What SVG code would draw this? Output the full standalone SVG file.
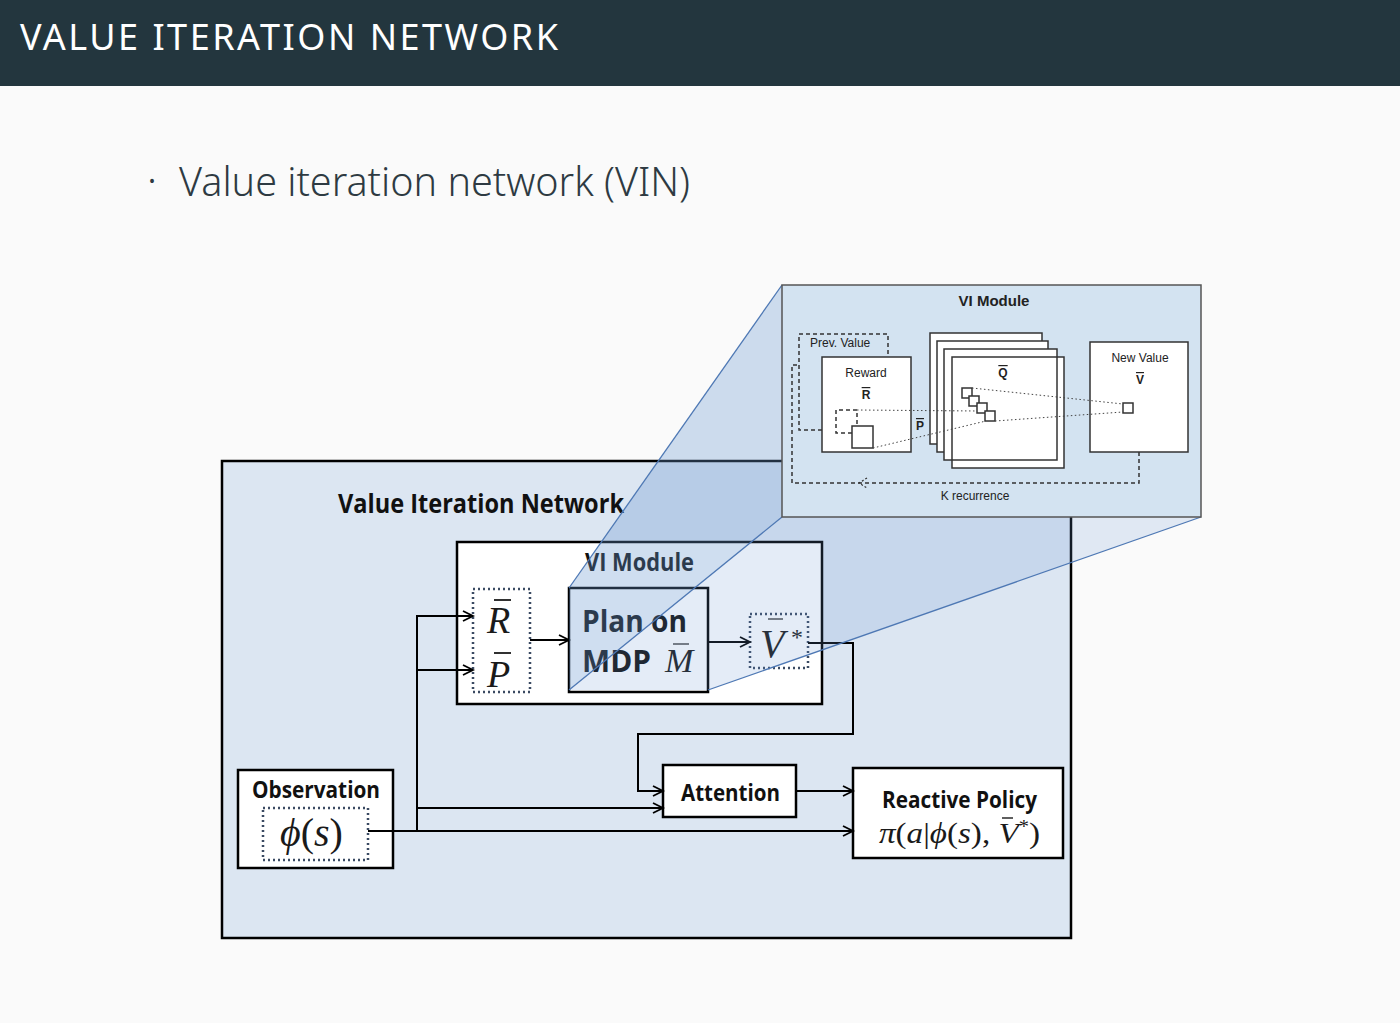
<svg xmlns="http://www.w3.org/2000/svg" width="1400" height="1023" viewBox="0 0 1400 1023">
<style>
.lbl{font-family:"Open Sans","Noto Sans","Liberation Sans",sans-serif;font-weight:700;fill:#111;}
.math{font-family:"Liberation Serif","DejaVu Serif",serif;font-style:italic;fill:#1a1a1a;}
.rm{font-style:normal;}
.sm{font-family:"Liberation Sans",Arial,sans-serif;font-size:12px;fill:#222;}
.smb{font-family:"Liberation Sans",Arial,sans-serif;font-size:12px;font-weight:700;fill:#222;}
.ttl{font-family:"Liberation Sans",Arial,sans-serif;font-size:15px;font-weight:700;fill:#222;}
.box{fill:#fff;stroke:#000;stroke-width:2.5;}
.dot{fill:none;stroke:#3a4a62;stroke-width:2.5;stroke-dasharray:2 3;}
.conn{fill:none;stroke:#000;stroke-width:2;}
.ibox{fill:#fff;stroke:#333;stroke-width:1.5;}
.idash{fill:none;stroke:#333;stroke-width:1.5;stroke-dasharray:4 3;}
.idot{fill:none;stroke:#444;stroke-width:1;stroke-dasharray:1.5 2.5;}
.proj{fill:none;stroke:#4e78b4;stroke-width:1.3;}
</style>
<defs>
<marker id="arr" markerUnits="userSpaceOnUse" markerWidth="14" markerHeight="14" refX="11" refY="6" orient="auto">
<path d="M1,1 L11,6 L1,11" fill="none" stroke="#000" stroke-width="1.8"/>
</marker>
</defs>
<rect x="0" y="0" width="1400" height="1023" fill="#fafafa"/>
<g id="header">
<rect x="0" y="0" width="1400" height="86" fill="#23363e"/>
<text x="20" y="50" font-family="'Noto Sans','Open Sans',sans-serif" font-size="36" fill="#fff" letter-spacing="2" textLength="540" lengthAdjust="spacing">VALUE ITERATION NETWORK</text>
</g>
<g id="bullet">
<text x="148" y="192" font-family="'Noto Sans',sans-serif" font-size="30" fill="#2e3a42">·</text>
<text x="179" y="196" font-family="'Noto Sans','Open Sans',sans-serif" font-weight="300" font-size="41" fill="#2e3a42" textLength="511" lengthAdjust="spacingAndGlyphs">Value iteration network (VIN)</text>
</g>

<g id="vin">
<rect x="222" y="461" width="849" height="477" fill="#dce6f2" stroke="#000" stroke-width="2.5"/>
<text class="lbl" x="338" y="513" font-size="27" textLength="286" lengthAdjust="spacingAndGlyphs">Value Iteration Network</text>
</g>
<g id="vi-module">
<rect class="box" x="457" y="542" width="365" height="162"/>
<text class="lbl" x="585" y="571" font-size="25" fill="#262e3a" textLength="109" lengthAdjust="spacingAndGlyphs">VI Module</text>
</g>
<g id="rp">
<rect class="dot" x="473" y="589" width="57" height="103"/>
<text class="math" x="487" y="633" font-size="38">R</text>
<line x1="494" y1="600" x2="511" y2="600" stroke="#1a1a1a" stroke-width="1.8"/>
<text class="math" x="487" y="687" font-size="38">P</text>
<line x1="494" y1="653" x2="511" y2="653" stroke="#1a1a1a" stroke-width="1.8"/>
</g>
<g id="plan">
<rect class="box" x="569" y="588" width="139" height="104"/>
<text class="lbl" x="582" y="632" font-size="30" fill="#262e3a" textLength="105" lengthAdjust="spacingAndGlyphs">Plan on</text>
<text class="lbl" x="582" y="672" font-size="30" fill="#262e3a" textLength="69" lengthAdjust="spacingAndGlyphs">MDP</text>
<text class="math" x="665" y="672" font-size="34" fill="#555">M</text>
<line x1="673" y1="644" x2="689" y2="644" stroke="#555" stroke-width="1.6"/>
</g>
<g id="vstar">
<rect class="dot" x="750" y="614" width="58" height="54"/>
<text class="math" x="760" y="657" font-size="40" fill="#555">V</text>
<line x1="768" y1="619" x2="783" y2="619" stroke="#555" stroke-width="1.6"/>
<text class="math rm" x="791" y="645" font-size="24" fill="#555">*</text>
</g>
<g id="observation">
<rect class="box" x="238" y="770" width="155" height="98"/>
<text class="lbl" x="252" y="798" font-size="24" textLength="128" lengthAdjust="spacingAndGlyphs">Observation</text>
<rect class="dot" x="263" y="808" width="105" height="52"/>
<text class="math" x="280" y="846" font-size="40">ϕ<tspan class="rm">(</tspan>s<tspan class="rm">)</tspan></text>
</g>
<g id="attention">
<rect class="box" x="663" y="765" width="133" height="52"/>
<text class="lbl" x="681" y="801" font-size="24" textLength="99" lengthAdjust="spacingAndGlyphs">Attention</text>
</g>
<g id="policy">
<rect class="box" x="853" y="768" width="210" height="90"/>
<text class="lbl" x="882" y="808" font-size="24" textLength="155" lengthAdjust="spacingAndGlyphs">Reactive Policy</text>
<text class="math" x="879" y="843" font-size="29" textLength="161" lengthAdjust="spacingAndGlyphs">π<tspan class="rm">(</tspan>a<tspan class="rm">|</tspan>ϕ<tspan class="rm">(</tspan>s<tspan class="rm">), </tspan>V<tspan class="rm" font-size="18" dy="-10">*</tspan><tspan class="rm" dy="10">)</tspan></text>
<line x1="1002" y1="818" x2="1013" y2="818" stroke="#1a1a1a" stroke-width="1.4"/>
</g>

<g id="connectors">
<polyline class="conn" points="368,831 417,831 417,616 473,616" marker-end="url(#arr)"/>
<line class="conn" x1="417" y1="670" x2="473" y2="670" marker-end="url(#arr)"/>
<line class="conn" x1="417" y1="808" x2="663" y2="808" marker-end="url(#arr)"/>
<line class="conn" x1="417" y1="831" x2="853" y2="831" marker-end="url(#arr)"/>
<line class="conn" x1="530" y1="640" x2="569" y2="640" marker-end="url(#arr)"/>
<line class="conn" x1="708" y1="642" x2="750" y2="642" marker-end="url(#arr)"/>
<polyline class="conn" points="808,643 853,643 853,734 638,734 638,791 663,791" marker-end="url(#arr)"/>
<line class="conn" x1="796" y1="791" x2="853" y2="791" marker-end="url(#arr)"/>
</g>

<g id="projection">
<polygon points="569,690 708,690 1201,517 1201,285 782,285 569,588" fill="#6a98d2" fill-opacity="0.18"/>
<polygon points="569,588 782,285 782,517 569,690" fill="#6a98d2" fill-opacity="0.17"/>
<line class="proj" x1="569" y1="588" x2="782" y2="285"/>
<line class="proj" x1="569" y1="690" x2="782" y2="517"/>
<line class="proj" x1="708" y1="690" x2="1201" y2="517"/>
</g>

<g id="inset">
<rect x="782" y="285" width="419" height="232" fill="#d3e3f1" stroke="#555" stroke-width="1.5"/>
<text class="ttl" x="994" y="306" text-anchor="middle">VI Module</text>
<g id="prev-value">
<path class="idash" d="M822,430 L799,430 L799,334 L888,334 L888,357"/>
<text class="sm" x="810" y="347">Prev. Value</text>
</g>
<g id="reward">
<rect class="ibox" x="822" y="357" width="89" height="95"/>
<text class="sm" x="866" y="377" text-anchor="middle">Reward</text>
<text class="smb" x="866" y="399" text-anchor="middle" text-decoration="overline">R</text>
<path class="idash" d="M852,433 L836,433 L836,410 L857,410 L857,426"/>
<rect class="ibox" x="852" y="426" width="21" height="22"/>
</g>
<text class="smb" x="920" y="430" text-anchor="middle" text-decoration="overline">P</text>
<g id="q-stack">
<rect class="ibox" x="930" y="333" width="112" height="111"/>
<rect class="ibox" x="937" y="341" width="111" height="111"/>
<rect x="952" y="357" width="112" height="111" fill="#fff"/>
<rect class="ibox" x="944" y="349" width="113" height="111"/>
<rect x="952" y="357" width="112" height="111" fill="none" stroke="#333" stroke-width="1.5"/>
<text class="smb" x="1003" y="377" text-anchor="middle" text-decoration="overline">Q</text>
<rect class="ibox" x="962" y="388" width="10" height="10"/>
<rect class="ibox" x="969" y="396" width="10" height="10"/>
<rect class="ibox" x="977" y="403" width="10" height="10"/>
<rect class="ibox" x="985" y="411" width="10" height="10"/>
</g>
<g id="new-value">
<rect class="ibox" x="1090" y="342" width="98" height="110"/>
<text class="sm" x="1140" y="362" text-anchor="middle">New Value</text>
<text class="smb" x="1140" y="384" text-anchor="middle" text-decoration="overline">V</text>
<rect class="ibox" x="1123" y="403" width="10" height="10"/>
</g>
<g id="inset-connectors">
<line class="idot" x1="857" y1="410" x2="977" y2="411"/>
<line class="idot" x1="873" y1="448" x2="986" y2="421"/>
<line class="idot" x1="972" y1="388" x2="1123" y2="404"/>
<line class="idot" x1="995" y1="421" x2="1123" y2="412"/>
<path class="idash" d="M1139,452 L1139,483 L792,483 L792,365 L799,365"/>
<path d="M867,478 L859,483 L867,488" fill="none" stroke="#333" stroke-width="1.2" stroke-dasharray="2 2"/>
<text class="sm" x="975" y="500" text-anchor="middle">K recurrence</text>
</g>
</g>
</svg>
